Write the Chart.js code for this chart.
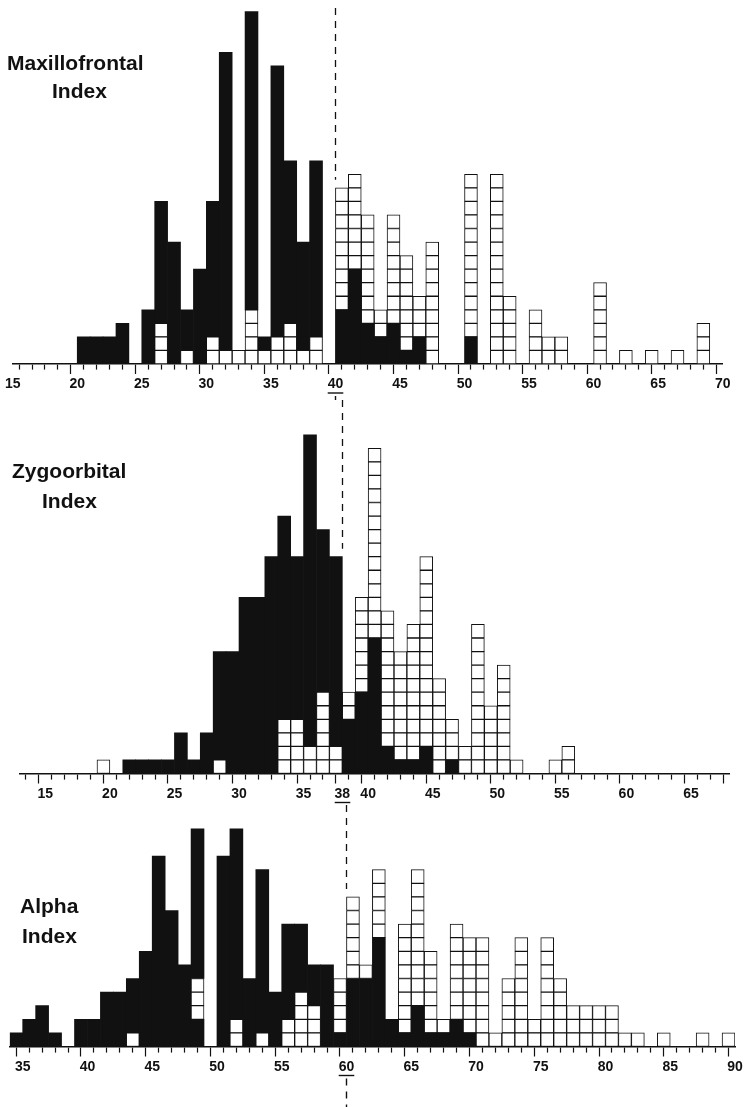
<!DOCTYPE html>
<html>
<head>
<meta charset="utf-8">
<script src="https://cdn.jsdelivr.net/npm/chart.js@4.4.0/dist/chart.umd.min.js"></script>
<style>
  html, body { margin: 0; padding: 0; background: #fff; }
  #page { position: relative; width: 746px; height: 1107px; overflow: hidden; }
  canvas { position: absolute; left: 0; }
  .label { position: absolute; font: bold 21px "Liberation Sans", Arial, sans-serif; line-height: 21px; color: #111; white-space: nowrap; }
</style>
</head>
<body>
<div id="page">
  <canvas id="maxillo" width="746" height="400" style="top:0"></canvas>
  <canvas id="zygo" width="746" height="405" style="top:400px"></canvas>
  <canvas id="alpha" width="746" height="302" style="top:805px"></canvas>
  <div class="label" style="left:7px;top:52px">Maxillofrontal</div>
  <div class="label" style="left:52px;top:80px">Index</div>
  <div class="label" style="left:12px;top:460px">Zygoorbital</div>
  <div class="label" style="left:42px;top:490px">Index</div>
  <div class="label" style="left:20px;top:895px">Alpha</div>
  <div class="label" style="left:22px;top:925px">Index</div>
</div>
<script>
// Each bin starts at the listed value and is one unit wide.
// blackLow = black squares under the white ones, blackHigh = black squares on top of them.

// Maxillofrontal index
const mfBins = [20, 21, 22, 23, 25, 26, 27, 28, 29, 30, 31, 32, 33, 34, 35, 36, 37, 38,
                40, 41, 42, 43, 44, 45, 46, 47, 50, 52, 53, 55, 56, 57, 60, 62, 64, 66, 68];
const mfBlackLow = [0, 0, 0, 0, 0, 0, 0, 0, 0, 0, 0, 0, 0, 0, 0, 0, 0, 0,
                    4, 7, 3, 2, 3, 1, 2, 0, 2, 0, 0, 0, 0, 0, 0, 0, 0, 0, 0];
const mfWhite = [0, 0, 0, 0, 0, 3, 0, 1, 0, 2, 1, 1, 4, 1, 2, 3, 1, 2,
                 9, 7, 8, 2, 8, 7, 3, 9, 12, 14, 5, 4, 2, 2, 6, 1, 1, 1, 3];
const mfBlackHigh = [2, 2, 2, 3, 4, 9, 9, 3, 7, 10, 22, 0, 22, 1, 20, 12, 8, 13,
                     0, 0, 0, 0, 0, 0, 0, 0, 0, 0, 0, 0, 0, 0, 0, 0, 0, 0, 0];
const mfTicks = [15, 20, 25, 30, 35, 40, 45, 50, 55, 60, 65, 70];
const mfCut = 40;

// Zygoorbital index
const zgBins = [19, 21, 22, 23, 24, 25, 26, 27, 28, 29, 30, 31, 32, 33, 34, 35, 36, 37,
                38, 39, 40, 41, 42, 43, 44, 45, 46, 47, 48, 49, 50, 51, 54, 55];
const zgBlackLow = [0, 0, 0, 0, 0, 0, 0, 0, 0, 0, 0, 0, 0, 0, 0, 0, 0, 0,
                    4, 6, 10, 2, 1, 1, 2, 0, 1, 0, 0, 0, 0, 0, 0, 0];
const zgWhite = [1, 0, 0, 0, 0, 0, 0, 0, 1, 0, 0, 0, 0, 4, 4, 2, 6, 2,
                 2, 7, 14, 10, 8, 10, 14, 7, 3, 2, 11, 5, 8, 1, 1, 2];
const zgBlackHigh = [0, 1, 1, 1, 1, 3, 1, 3, 8, 9, 13, 13, 16, 15, 12, 23, 12, 14,
                     0, 0, 0, 0, 0, 0, 0, 0, 0, 0, 0, 0, 0, 0, 0, 0];
const zgTicks = [15, 20, 25, 30, 35, 38, 40, 45, 50, 55, 60, 65];
const zgCut = 38;

// Alpha index
const alBins = [34, 35, 36, 37, 39, 40, 41, 42, 43, 44, 45, 46, 47, 48,
                50, 51, 52, 53, 54, 55, 56, 57, 58,
                59, 60, 61, 62, 63, 64, 65, 66, 67, 68, 69,
                70, 71, 72, 73, 74, 75, 76, 77, 78, 79, 80, 81, 82, 84, 87, 89];
const alBlackLow = [0, 0, 0, 0, 0, 0, 0, 0, 0, 0, 0, 0, 0, 2,
                    0, 0, 0, 0, 0, 0, 0, 0, 0,
                    1, 5, 5, 8, 2, 1, 3, 1, 1, 2, 1,
                    0, 0, 0, 0, 0, 0, 0, 0, 0, 0, 0, 0, 0, 0, 0, 0];
const alWhite = [0, 0, 0, 0, 0, 0, 0, 0, 1, 0, 0, 0, 0, 3,
                 0, 2, 0, 1, 0, 2, 4, 3, 0,
                 4, 6, 1, 5, 0, 8, 10, 6, 1, 7, 7,
                 8, 1, 5, 8, 2, 8, 5, 3, 3, 3, 3, 1, 1, 1, 1, 1];
const alBlackHigh = [1, 2, 3, 1, 2, 2, 4, 4, 4, 7, 14, 10, 6, 11,
                     14, 14, 5, 12, 4, 7, 5, 3, 6,
                     0, 0, 0, 0, 0, 0, 0, 0, 0, 0, 0,
                     0, 0, 0, 0, 0, 0, 0, 0, 0, 0, 0, 0, 0, 0, 0, 0];
const alTicks = [35, 40, 45, 50, 55, 60, 65, 70, 75, 80, 85, 90];
const alCut = 60;

const ink = '#111';
const tickFont = { family: '"Liberation Sans", Arial, sans-serif', size: 14, weight: 'bold' };
const TICK_LEN = 10;
const TICK_PAD = 2;
const AXIS_H = TICK_LEN + tickFont.size * 1.2 + TICK_PAD * 2;

// Dashed cut-off line, plus the underline under its tick label.
const cutLine = {
    id: 'cutLine',
    afterDraw(chart, args, opts) {
        const ctx = chart.ctx;
        const xs = chart.scales.x;
        const ys = chart.scales.y;
        const x = Math.round(xs.getPixelForValue(opts.value)) + 0.5;
        ctx.save();
        ctx.strokeStyle = ink;
        ctx.lineWidth = 1.3;
        ctx.setLineDash([7, 6]);
        ctx.beginPath();
        ctx.moveTo(x, opts.top);
        ctx.lineTo(x, ys.getPixelForValue(opts.height) - 8);
        ctx.stroke();
        ctx.font = 'bold 14px "Liberation Sans", Arial, sans-serif';
        const w = ctx.measureText(String(opts.value)).width;
        const uy = xs.top + TICK_LEN + TICK_PAD + 17;
        ctx.setLineDash([]);
        ctx.lineWidth = 1.4;
        ctx.beginPath();
        ctx.moveTo(x - w / 2, uy);
        ctx.lineTo(x + w / 2, uy);
        ctx.stroke();
        ctx.setLineDash([7, 6]);
        ctx.beginPath();
        ctx.moveTo(x, uy + 3);
        ctx.lineTo(x, chart.height);
        ctx.stroke();
        ctx.restore();
    }
};

function buildDatasets(bins, blackLow, white, blackHigh) {
    const points = arr => bins.map((b, i) => arr[i] ? { x: b + 0.5, y: arr[i] } : null).filter(p => p);
    const sets = [{ data: points(blackLow), backgroundColor: ink, borderWidth: 0 }];
    // one dataset per row of white squares, so every square gets its own outline
    const maxWhite = Math.max(...white);
    for (let k = 0; k < maxWhite; k++) {
        sets.push({
            data: bins.map((b, i) => white[i] > k ? { x: b + 0.5, y: 1 } : null).filter(p => p),
            backgroundColor: '#fff',
            borderColor: ink,
            borderWidth: 1,
            borderSkipped: false
        });
    }
    sets.push({ data: points(blackHigh), backgroundColor: ink, borderWidth: 0 });
    return sets;
}

function makeChart(id, bins, blackLow, white, blackHigh, ticks, cut, frame) {
    const totals = bins.map((b, i) => blackLow[i] + white[i] + blackHigh[i]);
    const at = v => { const i = bins.indexOf(v); return i < 0 ? 0 : totals[i]; };
    const canvas = document.getElementById(id);
    const ymax = Math.floor(frame.base / frame.unit * 10) / 10;
    const isMajor = v => ticks.includes(v) || v === frame.min || v === frame.max;
    return new Chart(canvas, {
        type: 'bar',
        data: { datasets: buildDatasets(bins, blackLow, white, blackHigh) },
        options: {
            responsive: false,
            animation: false,
            devicePixelRatio: 1,
            layout: {
                padding: {
                    left: frame.left,
                    right: canvas.width - frame.right,
                    top: frame.base - ymax * frame.unit,
                    bottom: canvas.height - frame.base - AXIS_H
                }
            },
            datasets: { bar: { barPercentage: 1, categoryPercentage: 1 } },
            plugins: {
                legend: { display: false },
                tooltip: { enabled: false },
                cutLine: { value: cut, height: Math.max(at(cut - 1), at(cut)), top: frame.dashTop }
            },
            scales: {
                x: {
                    type: 'linear',
                    min: frame.min,
                    max: frame.max,
                    offset: false,
                    stacked: true,
                    border: { display: true, color: ink, width: 1.6 },
                    grid: {
                        drawOnChartArea: false,
                        drawTicks: true,
                        tickLength: TICK_LEN,
                        tickColor: ink,
                        tickWidth: 1.2,
                        tickBorderDash: c => (c.tick && !isMajor(c.tick.value)) ? [5, 40] : []
                    },
                    ticks: {
                        stepSize: 1,
                        autoSkip: false,
                        maxRotation: 0,
                        minRotation: 0,
                        padding: TICK_PAD,
                        color: ink,
                        font: tickFont,
                        callback: v => ticks.includes(v) ? String(v) : ''
                    }
                },
                y: { display: false, stacked: true, min: 0, max: ymax }
            }
        },
        plugins: [cutLine]
    });
}

makeChart('maxillo', mfBins, mfBlackLow, mfWhite, mfBlackHigh, mfTicks, mfCut,
    { min: 15, max: 70, left: 12.7, right: 722.7, base: 364, unit: 13.55, dashTop: 8 });
makeChart('zygo', zgBins, zgBlackLow, zgWhite, zgBlackHigh, zgTicks, zgCut,
    { min: 13, max: 68, left: 19.5, right: 729.7, base: 373.5, unit: 13.55, dashTop: 0 });
makeChart('alpha', alBins, alBlackLow, alWhite, alBlackHigh, alTicks, alCut,
    { min: 34, max: 90, left: 9.75, right: 735, base: 241.5, unit: 13.6, dashTop: 0 });
</script>
</body>
</html>
